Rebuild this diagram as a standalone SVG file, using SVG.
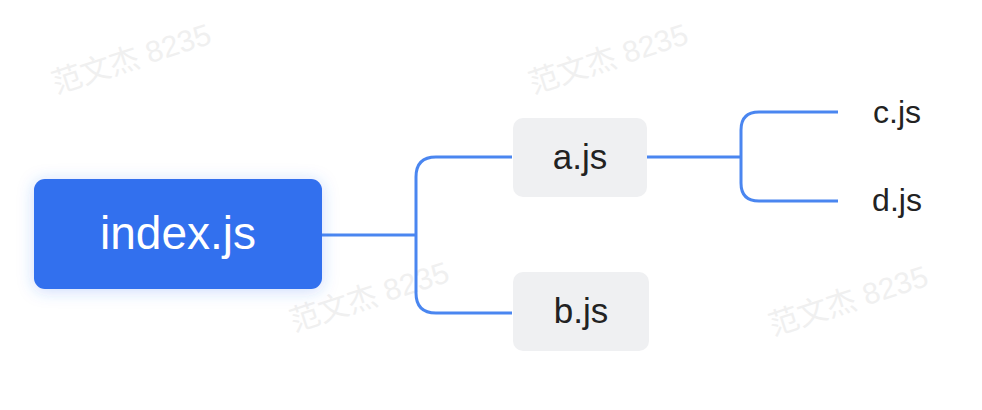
<svg xmlns="http://www.w3.org/2000/svg" width="982" height="410" viewBox="0 0 982 410">
<defs>
<filter id="glow" x="-30%" y="-40%" width="160%" height="180%">
<feDropShadow dx="0" dy="2" stdDeviation="8" flood-color="#3370f0" flood-opacity="0.25"/>
</filter>
<style>
.wm{font-family:"Liberation Sans","Noto Sans CJK SC",sans-serif;font-size:30px;fill:#f0f0f0}
.lbl{font-family:"Liberation Sans",Arial,sans-serif;text-anchor:middle}
.conn{fill:none;stroke:#4a86f0;stroke-width:3}
.sub{fill:#eff0f2}
</style>
</defs>
<rect width="982" height="410" fill="#ffffff"/>
<g id="watermarks">
<text class="wm" transform="translate(56,94) rotate(-18)">范文杰 8235</text>
<text class="wm" transform="translate(533,94) rotate(-18)">范文杰 8235</text>
<text class="wm" transform="translate(294,332) rotate(-18)">范文杰 8235</text>
<text class="wm" transform="translate(773,336) rotate(-18)">范文杰 8235</text>
</g>
<g id="connectors">
<path class="conn" d="M322,235 H416"/>
<path class="conn" d="M512,157 H436 Q416,157 416,177 V293 Q416,313 436,313 H512"/>
<path class="conn" d="M647,157 H741"/>
<path class="conn" d="M838,112 H759 Q741,112 741,130 V183 Q741,201 759,201 H838"/>
</g>
<g id="index">
<rect x="34" y="179" width="288" height="110" rx="11" fill="#3170ee" filter="url(#glow)"/>
<text class="lbl" x="178" y="249" font-size="46" fill="#ffffff">index.js</text>
</g>
<g id="a">
<rect class="sub" x="513" y="118" width="134" height="79" rx="10"/>
<text class="lbl" x="580" y="169" font-size="35" fill="#222222">a.js</text>
</g>
<g id="b">
<rect class="sub" x="513" y="272" width="136" height="79" rx="10"/>
<text class="lbl" x="581" y="323" font-size="35" fill="#222222">b.js</text>
</g>
<g id="c">
<text class="lbl" x="897" y="123" font-size="32" fill="#222222">c.js</text>
</g>
<g id="d">
<text class="lbl" x="897" y="211" font-size="32" fill="#222222">d.js</text>
</g>
</svg>
